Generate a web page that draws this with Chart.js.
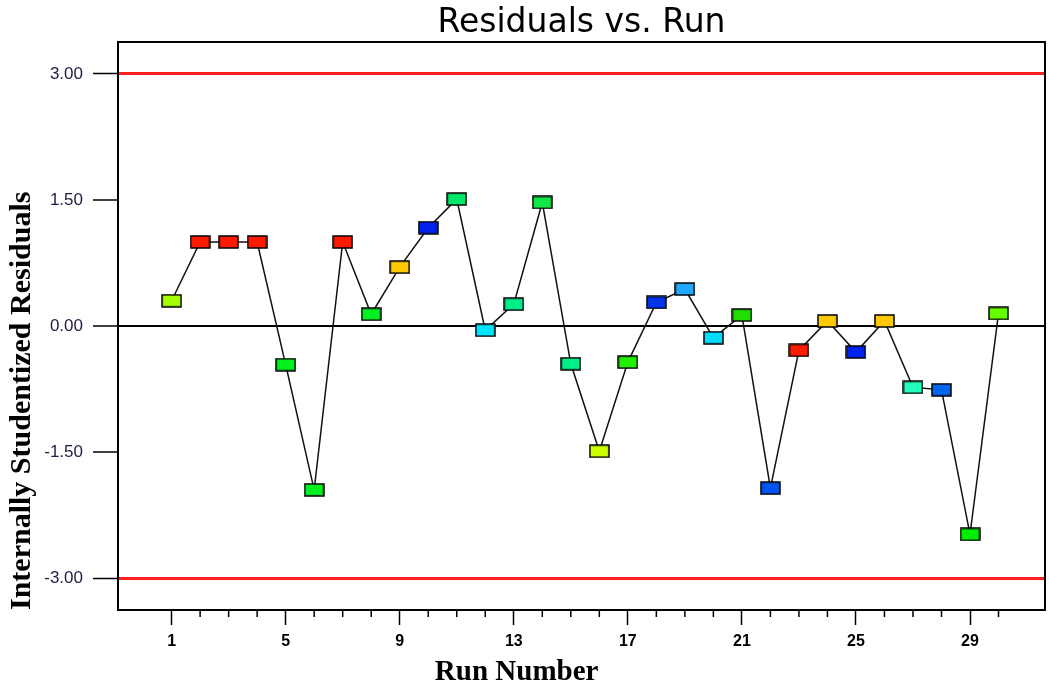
<!DOCTYPE html>
<html>
<head>
<meta charset="utf-8">
<title>Residuals vs. Run</title>
<script src="https://cdn.jsdelivr.net/npm/chart.js@4"></script>
<style>
    body { margin: 0; background: #fff; }
    canvas { display: block; }
</style>
</head>
<body>
<canvas id="grafico" width="1049" height="697"></canvas>
<script>
const runs = [1, 2, 3, 4, 5, 6, 7, 8, 9, 10, 11, 12, 13, 14, 15, 16, 17, 18, 19, 20, 21, 22, 23, 24, 25, 26, 27, 28, 29, 30];
const residuos = [0.30, 1.00, 1.00, 1.00, -0.46, -1.95, 1.00, 0.14, 0.70, 1.17,
                  1.51, -0.05, 0.26, 1.47, -0.45, -1.49, -0.43, 0.28, 0.44, -0.14,
                  0.13, -1.93, -0.29, 0.06, -0.31, 0.06, -0.73, -0.76, -2.48, 0.15];
const cores = ['#a6ff00', '#ff1a00', '#ff1a00', '#ff1a00', '#00f020', '#00f020', '#ff1a00', '#00f020', '#ffc800', '#0022ee',
               '#00e868', '#00e5ff', '#00ee88', '#10e848', '#00ee88', '#ccff00', '#22ee00', '#0033ee', '#22a8ff', '#00ddff',
               '#22dd00', '#0055ee', '#ff1a00', '#ffc800', '#0022ee', '#ffc800', '#22ffbb', '#0066ee', '#00ee00', '#66ff00'];
const ticksX = [1, 5, 9, 13, 17, 21, 25, 29];
const ticksY = [-3, -1.5, 0, 1.5, 3];
const limites = [-3, 3];

// marcador retangular para cada ponto
function marcador(cor) {
    const c = document.createElement('canvas');
    c.width = 21;
    c.height = 14;
    const g = c.getContext('2d');
    g.fillStyle = cor;
    g.fillRect(1, 1, 19, 12);
    g.strokeStyle = '#000';
    g.lineWidth = 1.5;
    g.strokeRect(1, 1, 19, 12);
    return c;
}

// moldura, ticks menores e título do eixo x
const moldura = {
    id: 'moldura',
    afterDraw(chart) {
        const { ctx, chartArea: a, scales } = chart;
        ctx.save();
        ctx.strokeStyle = '#000';
        ctx.lineWidth = 2;
        ctx.strokeRect(a.left, a.top, a.right - a.left, a.bottom - a.top);
        ctx.lineWidth = 1.5;
        runs.forEach(r => {
            if (ticksX.includes(r)) return;
            const x = scales.x.getPixelForValue(r);
            ctx.beginPath();
            ctx.moveTo(x, a.bottom);
            ctx.lineTo(x, a.bottom + 7);
            ctx.stroke();
        });
        ctx.font = 'bold 29px "Liberation Serif", serif';
        ctx.fillStyle = '#000';
        ctx.textAlign = 'center';
        ctx.textBaseline = 'middle';
        ctx.fillText('Run Number', scales.x.getPixelForValue(13.1), a.bottom + 63);
        ctx.restore();
    }
};

const corGrade = c => {
    if (!c.tick) return 'rgba(0,0,0,0)';
    if (c.tick.value === 0) return '#000';
    if (limites.includes(c.tick.value)) return '#ff2020';
    return 'rgba(0,0,0,0)';
};
const larguraGrade = c => {
    if (!c.tick) return 0;
    if (c.tick.value === 0) return 2;
    if (limites.includes(c.tick.value)) return 3;
    return 0;
};

const ctx = document.getElementById('grafico').getContext('2d');
const chart = new Chart(ctx, {
    type: 'line',
    data: {
        datasets: [{
            data: runs.map((r, i) => ({ x: r, y: residuos[i] })),
            borderColor: '#111',
            borderWidth: 1.5,
            tension: 0,
            pointStyle: cores.map(marcador),
            pointRadius: 8,
            pointHoverRadius: 8
        }]
    },
    options: {
        responsive: false,
        animation: false,
        layout: { padding: { left: 0, right: 4, top: 0, bottom: 0 }, autoPadding: false },
        plugins: {
            legend: { display: false },
            tooltip: { enabled: false },
            title: {
                display: true,
                text: 'Residuals vs. Run',
                fullSize: false,
                color: '#000',
                font: { family: '"DejaVu Sans", sans-serif', size: 33, weight: 'normal', lineHeight: 1 },
                padding: { top: 6.5, bottom: 2.5 }
            }
        },
        scales: {
            x: {
                type: 'linear',
                min: -0.88,
                max: 31.63,
                afterBuildTicks: s => { s.ticks = ticksX.map(v => ({ value: v })); },
                afterFit: s => { s.height = 87; },
                grid: { drawOnChartArea: false, tickLength: 15, tickColor: '#000', tickWidth: 1.5 },
                border: { display: false },
                ticks: {
                    color: '#000',
                    padding: 7,
                    font: { family: '"Liberation Sans", Arial, sans-serif', size: 16, weight: 'bold' }
                }
            },
            y: {
                min: -3.38,
                max: 3.38,
                afterBuildTicks: s => { s.ticks = ticksY.map(v => ({ value: v })); },
                afterFit: s => { s.width = 118; },
                grid: {
                    color: corGrade,
                    lineWidth: larguraGrade,
                    tickColor: '#000',
                    tickWidth: 1.5,
                    tickLength: 25
                },
                border: { display: false },
                ticks: {
                    callback: v => v.toFixed(2),
                    color: '#1c1c44',
                    padding: 10,
                    font: { family: '"Liberation Sans", Arial, sans-serif', size: 17 }
                },
                title: {
                    display: true,
                    text: 'Internally Studentized Residuals',
                    align: 'start',
                    color: '#000',
                    font: { family: '"Liberation Serif", serif', size: 30, weight: 'bold' },
                    padding: { top: 4, bottom: 0 }
                }
            }
        }
    },
    plugins: [moldura]
});
</script>
</body>
</html>
